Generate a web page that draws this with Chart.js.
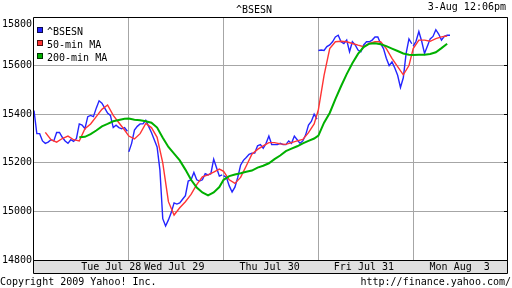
<!DOCTYPE html>
<html>
<head>
<meta charset="utf-8">
<title>^BSESN</title>
<script src="https://cdn.jsdelivr.net/npm/chart.js@4.4.1/dist/chart.umd.min.js"></script>
<style>
  html, body { margin: 0; padding: 0; background: #fff; }
  canvas { display: block; }
</style>
</head>
<body>
<canvas id="chart" width="512" height="288"></canvas>
<script>
// ----------------------
// DATA
// ----------------------
const symbol = "^BSESN";
const stamp = "3-Aug 12:06pm";
const days = ["Tue Jul 28", "Wed Jul 29", "Thu Jul 30", "Fri Jul 31", "Mon Aug  3"];
const dayLabelAt = [0.815, 1.48, 2.485, 3.48, 4.49]; // where the day names sit (in days)
const yTicks = [14800, 15000, 15200, 15400, 15600, 15800];
const sessionMin = 335; // 9:55 -> 15:30

// index, one reading every 10 minutes of each session
const sensex = [
  [15415, 15320, 15320, 15290, 15280, 15285, 15295, 15290, 15325, 15325,
   15305, 15290, 15280, 15295, 15288, 15300, 15360, 15355, 15340, 15390,
   15395, 15390, 15425, 15455, 15445, 15425, 15405, 15395, 15345, 15355,
   15345, 15340, 15345, 15330],
  [15245, 15280, 15335, 15350, 15360, 15360, 15375, 15350, 15325, 15295,
   15265, 15170, 14970, 14940, 14965, 14995, 15035, 15030, 15035, 15050,
   15065, 15125, 15130, 15160, 15130, 15125, 15130, 15155, 15150, 15155,
   15215, 15180, 15145, 15150],
  [15147, 15140, 15105, 15080, 15100, 15140, 15190, 15210, 15222, 15235,
   15240, 15240, 15270, 15275, 15260, 15280, 15310, 15275, 15275, 15275,
   15280, 15275, 15275, 15290, 15280, 15310, 15295, 15280, 15290, 15315,
   15355, 15370, 15400, 15380],
  [15662, 15664, 15662, 15678, 15685, 15698, 15718, 15725, 15698, 15691,
   15705, 15657, 15698, 15685, 15664, 15657, 15685, 15698, 15698, 15705,
   15718, 15718, 15690, 15670, 15630, 15600, 15615, 15590, 15560, 15510,
   15550, 15650, 15710, 15690],
  [15680, 15700, 15740, 15700, 15650, 15680, 15710, 15720, 15748, 15730,
   15705, 15720, 15725, 15725]
];

// moving averages, one reading every 20 minutes
const ma50 = [
  [null, null, 15325, 15295, 15285, 15300, 15310, 15295, 15290, 15340,
   15360, 15390, 15420, 15438, 15395, 15365, 15335],
  [15310, 15298, 15320, 15362, 15345, 15305, 15200, 15040, 14985, 15015,
   15040, 15070, 15110, 15142, 15150, 15162, 15174],
  [15165, 15130, 15115, 15140, 15187, 15235, 15255, 15270, 15283, 15283,
   15278, 15276, 15283, 15290, 15296, 15324, 15360],
  [15419, 15560, 15670, 15698, 15700, 15698, 15691, 15684, 15678, 15691,
   15698, 15698, 15670, 15630, 15596, 15562, 15600],
  [15670, 15705, 15705, 15700, 15711, 15718, 15722]
];

const ma200 = [
  [null, null, null, null, null, null, null, null, 15305, 15307,
   15318, 15333, 15350, 15360, 15371, 15376, 15381],
  [15382, 15377, 15375, 15371, 15365, 15345, 15303, 15265, 15238, 15210,
   15172, 15130, 15098, 15078, 15066, 15078, 15100],
  [15130, 15145, 15152, 15157, 15163, 15168, 15180, 15188, 15198, 15215,
   15230, 15248, 15258, 15268, 15280, 15290, 15300],
  [15312, 15365, 15405, 15462, 15515, 15565, 15610, 15648, 15676, 15690,
   15692, 15688, 15680, 15670, 15660, 15650, 15645],
  [15644, 15645, 15645, 15648, 15655, 15672, 15690]
];

// ----------------------
// UTIL: day arrays -> {x, y} points (x in days)
// ----------------------
function toPoints(perDay, stepMin, breakDays) {
  const pts = [];
  perDay.forEach((vals, d) => {
    vals.forEach((v, i) => pts.push({ x: d + i * stepMin / sessionMin, y: v }));
    if (breakDays) pts.push({ x: d + 0.999, y: null });
  });
  return pts;
}

const monoFont = { family: "'DejaVu Sans Mono', monospace", size: 10, weight: "normal" };
const gridGray = "#a6a6a6";

// ----------------------
// PLUGIN: frame, legend, stamp, footer
// ----------------------
const yahooFrame = {
  id: "yahooFrame",
  afterDraw(chart) {
    const { ctx, chartArea: a, scales } = chart;
    ctx.save();
    ctx.strokeStyle = "#000";
    ctx.lineWidth = 1;
    ctx.beginPath();
    ctx.rect(a.left - 0.5, a.top + 0.5, a.right - a.left, a.bottom - a.top);
    ctx.rect(a.left - 0.5, a.bottom + 0.5, a.right - a.left, scales.x.bottom - a.bottom);
    // little inward ticks on the right edge
    yTicks.slice(1, -1).forEach(v => {
      const py = Math.round(scales.y.getPixelForValue(v) - 0.5) + 0.5;
      ctx.moveTo(a.right - 4, py);
      ctx.lineTo(a.right - 0.5, py);
    });
    ctx.stroke();

    ctx.font = "10px 'DejaVu Sans Mono', monospace";
    ctx.fillStyle = "#000";

    // legend inside the plot
    ctx.textAlign = "left";
    ctx.textBaseline = "alphabetic";
    chart.data.datasets.forEach((ds, i) => {
      const top = a.top + 10 + i * 13;
      ctx.fillStyle = ds.borderColor;
      ctx.fillRect(37, top, 6, 6);
      ctx.strokeStyle = "rgba(0,0,0,0.7)";
      ctx.strokeRect(37.5, top + 0.5, 5, 5);
      ctx.fillStyle = "#000";
      ctx.fillText(ds.label, 47, top + 8);
    });

    ctx.textAlign = "right";
    ctx.textBaseline = "middle";
    ctx.fillText(stamp, 506, 7);

    ctx.textBaseline = "alphabetic";
    ctx.textAlign = "left";
    ctx.fillText("Copyright 2009 Yahoo! Inc.", 0, 285);
    ctx.textAlign = "right";
    ctx.fillText("http://finance.yahoo.com/", 511, 285);
    ctx.restore();
  }
};

// ----------------------
// CHART
// ----------------------
const gridDays = [1, 2, 3, 4];

new Chart(document.getElementById("chart"), {
  type: "line",
  data: {
    datasets: [
      { label: "^BSESN", data: toPoints(sensex, 10, true), borderColor: "#2424ff", borderWidth: 1.4, order: 3 },
      { label: "50-min MA", data: toPoints(ma50, 20, false), borderColor: "#ff3434", borderWidth: 1.4, order: 2 },
      { label: "200-min MA", data: toPoints(ma200, 20, false), borderColor: "#00b000", borderWidth: 2, order: 1 }
    ]
  },
  options: {
    responsive: false,
    animation: false,
    devicePixelRatio: 1,
    events: [],
    spanGaps: false,
    elements: { point: { radius: 0 }, line: { tension: 0 } },
    layout: { padding: { left: 0, right: 4, top: 0, bottom: 15 } },
    plugins: {
      legend: { display: false },
      tooltip: { enabled: false },
      title: { display: true, text: symbol, color: "#000", font: monoFont, padding: { top: 1, bottom: 1 } }
    },
    scales: {
      x: {
        type: "linear",
        min: 0,
        max: 5,
        backgroundColor: "#e0e0e0",
        afterBuildTicks: s => {
          s.ticks = gridDays.concat(dayLabelAt).sort((p, q) => p - q).map(v => ({ value: v }));
        },
        afterFit: s => { s.height = 13; },
        border: { display: false },
        grid: {
          drawTicks: false,
          color: c => (c.tick && gridDays.includes(c.tick.value)) ? gridGray : "rgba(0,0,0,0)"
        },
        ticks: {
          autoSkip: false,
          maxRotation: 0,
          padding: 1,
          color: "#000",
          font: monoFont,
          callback: v => {
            const i = dayLabelAt.indexOf(v);
            return i >= 0 ? days[i] : "";
          }
        }
      },
      y: {
        min: 14800,
        max: 15800,
        afterBuildTicks: s => { s.ticks = yTicks.map(v => ({ value: v })); },
        afterFit: s => { s.width = 34; },
        border: { display: false },
        grid: { drawTicks: false, color: gridGray },
        ticks: {
          padding: 2,
          color: "#000",
          font: { family: monoFont.family, size: 10, lineHeight: 1.5 },
          callback: v => v === 15800 ? ["", String(v)] : String(v)
        }
      }
    }
  },
  plugins: [yahooFrame]
});
</script>
</body>
</html>
